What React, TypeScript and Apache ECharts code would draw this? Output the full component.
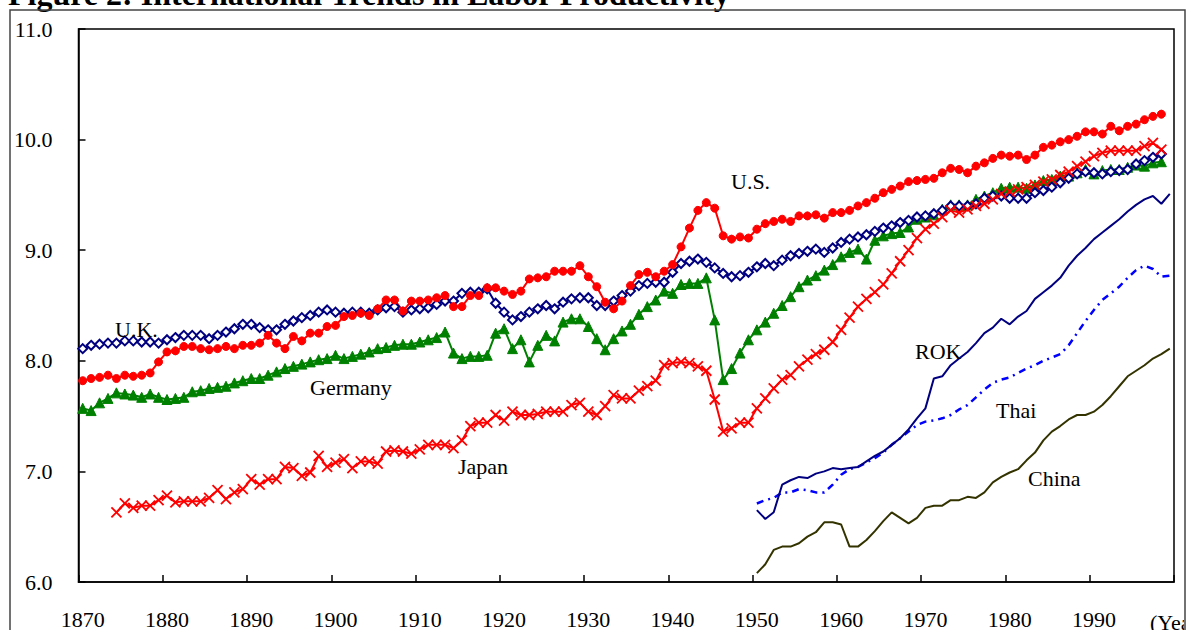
import React, { useEffect, useRef } from "react";
import * as echarts from "echarts";

const FIRST_YEAR = 1870;
const LAST_YEAR = 1999;

const yAxisTicks = [6, 7, 8, 9, 10, 11];

const usStart = 1870;
const usValues = [
  7.82, 7.84, 7.85, 7.87, 7.84, 7.87, 7.86, 7.87, 7.89, 7.99,
  8.08, 8.09, 8.13, 8.13, 8.11, 8.10, 8.11, 8.13, 8.11, 8.14,
  8.14, 8.16, 8.23, 8.16, 8.11, 8.22, 8.18, 8.25, 8.25, 8.31,
  8.32, 8.40, 8.41, 8.43, 8.41, 8.47, 8.55, 8.55, 8.45, 8.54,
  8.54, 8.55, 8.57, 8.59, 8.49, 8.49, 8.59, 8.59, 8.66, 8.66,
  8.63, 8.60, 8.63, 8.74, 8.75, 8.76, 8.81, 8.81, 8.81, 8.86,
  8.76, 8.67, 8.53, 8.47, 8.54, 8.68, 8.78, 8.80, 8.76, 8.81,
  8.87, 9.03, 9.20, 9.36, 9.43, 9.38, 9.13, 9.10, 9.12, 9.11,
  9.19, 9.24, 9.26, 9.28, 9.26, 9.31, 9.31, 9.32, 9.29, 9.34,
  9.34, 9.36, 9.40, 9.43, 9.47, 9.52, 9.55, 9.58, 9.62, 9.63,
  9.64, 9.65, 9.70, 9.74, 9.73, 9.70, 9.76, 9.79, 9.83, 9.86,
  9.85, 9.86, 9.82, 9.86, 9.93, 9.95, 9.98, 10.00, 10.03, 10.07,
  10.07, 10.05, 10.12, 10.08, 10.12, 10.14, 10.18, 10.21, 10.23,
];

const ukStart = 1870;
const ukValues = [
  8.11, 8.14, 8.15, 8.16, 8.16, 8.18, 8.18, 8.17, 8.17, 8.16,
  8.19, 8.21, 8.23, 8.23, 8.23, 8.20, 8.23, 8.26, 8.29, 8.33,
  8.33, 8.30, 8.28, 8.28, 8.33, 8.36, 8.39, 8.41, 8.44, 8.46,
  8.44, 8.43, 8.44, 8.44, 8.43, 8.46, 8.48, 8.49, 8.44, 8.46,
  8.47, 8.48, 8.51, 8.54, 8.54, 8.61, 8.62, 8.62, 8.65, 8.52,
  8.44, 8.37, 8.40, 8.44, 8.47, 8.50, 8.47, 8.53, 8.56, 8.57,
  8.57, 8.50, 8.50, 8.54, 8.59, 8.63, 8.68, 8.70, 8.71, 8.71,
  8.80, 8.88, 8.90, 8.92, 8.89, 8.84, 8.79, 8.76, 8.77, 8.80,
  8.85, 8.88, 8.86, 8.91, 8.95, 8.97, 8.99, 9.01, 8.98, 9.02,
  9.07, 9.10, 9.12, 9.14, 9.17, 9.20, 9.22, 9.25, 9.27, 9.30,
  9.31, 9.33, 9.36, 9.40, 9.40, 9.40, 9.42, 9.47, 9.49, 9.49,
  9.47, 9.47, 9.47, 9.52, 9.54, 9.57, 9.61, 9.65, 9.69, 9.71,
  9.70, 9.69, 9.71, 9.72, 9.73, 9.78, 9.81, 9.84, 9.87,
];

const germanyStart = 1870;
const germanyValues = [
  7.57, 7.55, 7.62, 7.66, 7.71, 7.70, 7.69, 7.67, 7.70, 7.67,
  7.65, 7.66, 7.67, 7.72, 7.73, 7.75, 7.76, 7.77, 7.80, 7.82,
  7.84, 7.84, 7.87, 7.90, 7.93, 7.95, 7.97, 7.99, 8.01, 8.02,
  8.05, 8.02, 8.04, 8.06, 8.08, 8.11, 8.12, 8.14, 8.15, 8.15,
  8.17, 8.19, 8.21, 8.26, 8.07, 8.02, 8.04, 8.04, 8.05, 8.25,
  8.29, 8.11, 8.19, 7.99, 8.14, 8.23, 8.18, 8.35, 8.38, 8.38,
  8.31, 8.20, 8.10, 8.20, 8.27, 8.33, 8.42, 8.49, 8.55, 8.63,
  8.61, 8.69, 8.70, 8.70, 8.75, 8.37, 7.83, 7.93, 8.07, 8.19,
  8.28, 8.35, 8.43, 8.50, 8.58, 8.67, 8.73, 8.77, 8.82, 8.87,
  8.94, 8.98, 9.01, 8.92, 9.09, 9.13, 9.15, 9.16, 9.21, 9.28,
  9.30, 9.32, 9.37, 9.41, 9.41, 9.41, 9.46, 9.49, 9.52, 9.56,
  9.57, 9.57, 9.56, 9.59, 9.63, 9.64, 9.67, 9.67, 9.70, 9.73,
  9.69, 9.72, 9.73, 9.73, 9.75, 9.77, 9.76, 9.79, 9.80,
];

const japanStart = 1874;
const japanValues = [
  6.63, 6.71, 6.67, 6.69, 6.69, 6.74,
  6.78, 6.72, 6.73, 6.73, 6.73, 6.76, 6.83, 6.75, 6.81, 6.84,
  6.93, 6.88, 6.93, 6.93, 7.04, 7.03, 6.96, 6.99, 7.14, 7.04,
  7.08, 7.11, 7.03, 7.09, 7.09, 7.07, 7.18, 7.19, 7.18, 7.16,
  7.20, 7.24, 7.24, 7.24, 7.21, 7.28, 7.41, 7.44, 7.44, 7.51,
  7.46, 7.54, 7.51, 7.51, 7.52, 7.54, 7.54, 7.54, 7.60, 7.62,
  7.54, 7.51, 7.59, 7.69, 7.66, 7.66, 7.73, 7.77, 7.82, 7.96,
  7.98, 7.99, 7.98, 7.95, 7.91, 7.65, 7.36, 7.39, 7.44, 7.44,
  7.57, 7.66, 7.75, 7.83, 7.87, 7.95, 8.01, 8.06, 8.10, 8.17,
  8.28, 8.39, 8.49, 8.56, 8.62, 8.69, 8.79, 8.90, 9.00, 9.11,
  9.19, 9.24, 9.30, 9.36, 9.34, 9.37, 9.40, 9.42, 9.46, 9.51,
  9.53, 9.55, 9.57, 9.59, 9.62, 9.64, 9.68, 9.71, 9.76, 9.80,
  9.85, 9.88, 9.90, 9.90, 9.90, 9.90, 9.94, 9.97, 9.91,
];

const asiaStart = 1950;
const rokValues = [
  6.65, 6.57, 6.63, 6.88, 6.92, 6.95, 6.94, 6.98, 7.00, 7.03,
  7.02, 7.03, 7.04, 7.09, 7.14, 7.18, 7.24, 7.30, 7.38, 7.48,
  7.57, 7.84, 7.86, 7.96, 8.02, 8.08, 8.16, 8.25, 8.30, 8.38,
  8.33, 8.40, 8.45, 8.56, 8.62, 8.68, 8.75, 8.86, 8.95, 9.02,
  9.10, 9.16, 9.22, 9.28, 9.35, 9.41, 9.46, 9.49, 9.42, 9.51,
];
const thaiValues = [
  6.71, 6.74, 6.76, 6.81, 6.81, 6.84, 6.83, 6.81, 6.81, 6.88,
  6.97, 7.02, 7.04, 7.08, 7.12, 7.17, 7.24, 7.30, 7.36, 7.42,
  7.45, 7.46, 7.48, 7.51, 7.56, 7.60, 7.67, 7.74, 7.80, 7.83,
  7.85, 7.89, 7.93, 7.96, 8.00, 8.03, 8.06, 8.14, 8.25, 8.36,
  8.46, 8.55, 8.61, 8.67, 8.75, 8.82, 8.86, 8.83, 8.76, 8.77,
];
const chinaValues = [
  6.08, 6.16, 6.29, 6.32, 6.32, 6.35, 6.41, 6.45, 6.54, 6.54,
  6.52, 6.32, 6.32, 6.38, 6.46, 6.55, 6.63, 6.58, 6.53, 6.58,
  6.67, 6.69, 6.69, 6.74, 6.74, 6.77, 6.76, 6.81, 6.90, 6.95,
  6.99, 7.02, 7.10, 7.17, 7.28, 7.36, 7.41, 7.47, 7.51, 7.51,
  7.54, 7.60, 7.68, 7.77, 7.86, 7.91, 7.96, 8.02, 8.06, 8.11,
];

const seriesNames = ["U.S.", "U.K.", "Germany", "Japan", "ROK", "Thai", "China"];

const years: string[] = [];
for (let y = FIRST_YEAR; y <= LAST_YEAR; y++) years.push(String(y));

function pad(start: number, values: number[]) {
  return years.map((ys) => {
    const i = Number(ys) - start;
    return i >= 0 && i < values.length ? values[i] : null;
  });
}

const SERIF = "'Liberation Serif', 'Times New Roman', serif";
const CROSS = "path://M0,0L10,10M10,0L0,10";

export default function App() {
  const ref = useRef<HTMLDivElement>(null);

  useEffect(() => {
    if (!ref.current) return;
    const chart = echarts.init(ref.current, undefined, { renderer: "svg" });

    const marked = (
      name: string,
      data: (number | null)[],
      color: string,
      symbol: string,
      symbolSize: number,
      extraItem: any = {}
    ) => ({
      name,
      type: "line",
      data,
      symbol,
      symbolSize,
      showAllSymbol: true,
      connectNulls: false,
      lineStyle: { color, width: 2 },
      itemStyle: { color, borderColor: color, ...extraItem },
      emphasis: { disabled: true },
    });

    const plain = (name: string, data: (number | null)[], color: string, width: number, type: any = "solid") => ({
      name,
      type: "line",
      data,
      symbol: "none",
      showSymbol: false,
      lineStyle: { color, width, type },
      emphasis: { disabled: true },
    });

    const textLabel = (text: string, x: number, y: number) => ({
      type: "text",
      x,
      y,
      z: 50,
      style: {
        text,
        fill: "#000",
        font: `22px ${SERIF}`,
        align: "left",
        verticalAlign: "middle",
      },
    });

    chart.setOption({
      animation: false,
      backgroundColor: "#fff",
      grid: {
        left: 78.5,
        top: 29,
        width: 1095.5,
        height: 556,
        show: true,
        borderColor: "#000",
        borderWidth: 1.5,
        backgroundColor: "transparent",
      },
      xAxis: {
        type: "category",
        data: years,
        boundaryGap: true,
        axisLine: { show: true, lineStyle: { color: "#000", width: 1.5 } },
        axisTick: {
          show: true,
          inside: true,
          length: 7,
          alignWithLabel: false,
          interval: (i: number) => i % 10 === 0,
          lineStyle: { color: "#000", width: 1.5 },
        },
        axisLabel: {
          interval: (i: number) => i % 10 === 0,
          margin: 26,
          color: "#000",
          fontFamily: SERIF,
          fontSize: 22,
        },
        splitLine: { show: false },
      },
      yAxis: {
        type: "value",
        min: yAxisTicks[0],
        max: yAxisTicks[yAxisTicks.length - 1],
        interval: 1,
        axisLine: { show: true, lineStyle: { color: "#000", width: 1.5 } },
        axisTick: { show: true, inside: true, length: 7, lineStyle: { color: "#000", width: 1.5 } },
        axisLabel: {
          margin: 26,
          color: "#000",
          fontFamily: SERIF,
          fontSize: 22,
          formatter: (v: number) => v.toFixed(1),
        },
        splitLine: { show: false },
      },
      series: [
        plain(seriesNames[6], pad(asiaStart, chinaValues), "#333300", 2),
        plain(seriesNames[5], pad(asiaStart, thaiValues), "#0000FF", 2.5, [7, 5, 2, 5]),
        plain(seriesNames[4], pad(asiaStart, rokValues), "#000080", 2),
        marked(seriesNames[2], pad(germanyStart, germanyValues), "#008000", "triangle", 10),
        marked(seriesNames[1], pad(ukStart, ukValues), "#000080", "emptyDiamond", 9, { borderWidth: 1.8 }),
        marked(seriesNames[3], pad(japanStart, japanValues), "#FF0000", CROSS, 10, { borderWidth: 1.8 }),
        marked(seriesNames[0], pad(usStart, usValues), "#FF0000", "circle", 8),
      ],
      graphic: [
        {
          type: "text",
          x: 8,
          y: -6,
          z: 50,
          style: {
            text: "Figure 2: International Trends in Labor Productivity",
            fill: "#000",
            font: `bold 32px ${SERIF}`,
            align: "left",
            verticalAlign: "middle",
          },
        },
        textLabel("U.K.", 115, 329),
        textLabel("U.S.", 731, 181),
        textLabel("Germany", 310, 387),
        textLabel("Japan", 458, 466),
        textLabel("ROK", 915, 351),
        textLabel("Thai", 996, 410),
        textLabel("China", 1028, 478),
        textLabel("(Year)", 1150, 622),
        {
          type: "rect",
          z: 100,
          shape: { x: 1184, y: 0, width: 12, height: 640 },
          style: { fill: "#fff", stroke: "none" },
        },
        {
          type: "rect",
          z: 101,
          shape: { x: 10, y: 10, width: 1175, height: 640 },
          style: { fill: "none", stroke: "#444", lineWidth: 1.5 },
        },
      ],
    });

    return () => chart.dispose();
  }, []);

  return (
    <div
      ref={ref}
      style={{ position: "fixed", left: 0, top: 0, width: 1189, height: 630, background: "#fff" }}
    />
  );
}
